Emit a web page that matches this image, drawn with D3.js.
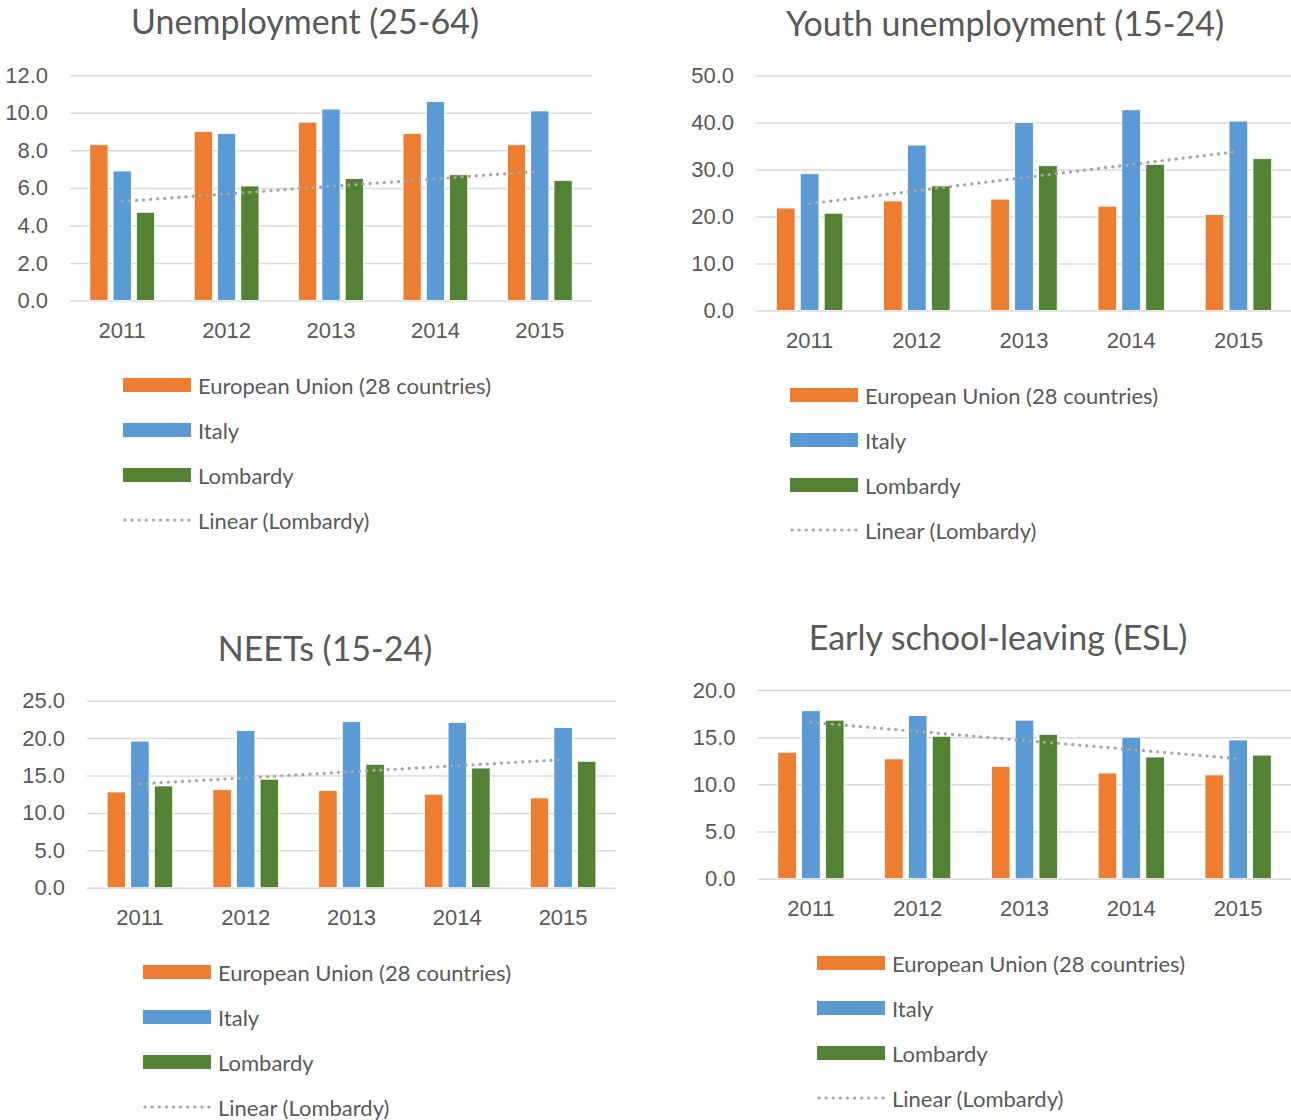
<!DOCTYPE html>
<html>
<head>
<meta charset="utf-8">
<script src="https://cdn.jsdelivr.net/npm/d3@7/dist/d3.min.js"></script>
<style>
	body { margin: 0; background: #fff; }
	svg { display: block; font-family: Lato, "Open Sans", sans-serif; }
	.grid line { stroke: #d9d9d9; stroke-width: 1.5; }
	.grid text, .xlab text { fill: #595959; font-size: 22px; }
	.legend text { fill: #595959; font-size: 22px; }
	.title { fill: #595959; font-size: 34px; }
</style>
</head>
<body>
<script>
// categories and series
var years = ["2011", "2012", "2013", "2014", "2015"];
var seriesNames = ["European Union (28 countries)", "Italy", "Lombardy"];
var trendName = "Linear (Lombardy)";

// unemployment 25-64
var unempEU = [8.3, 9.0, 9.5, 8.9, 8.3];
var unempIT = [6.9, 8.9, 10.2, 10.6, 10.1];
var unempLO = [4.7, 6.1, 6.5, 6.7, 6.4];
var unempTicks = [0, 2, 4, 6, 8, 10, 12];

// youth unemployment 15-24
var youthEU = [21.8, 23.3, 23.7, 22.2, 20.4];
var youthIT = [29.1, 35.2, 40.0, 42.7, 40.3];
var youthLO = [20.7, 26.5, 30.8, 31.1, 32.3];
var youthTicks = [0, 10, 20, 30, 40, 50];

// NEETs 15-24
var neetEU = [12.8, 13.1, 13.0, 12.5, 12.0];
var neetIT = [19.6, 21.0, 22.2, 22.1, 21.4];
var neetLO = [13.6, 14.5, 16.5, 16.0, 16.9];
var neetTicks = [0, 5, 10, 15, 20, 25];

// early school leaving
var eslEU = [13.4, 12.7, 11.9, 11.2, 11.0];
var eslIT = [17.8, 17.3, 16.8, 15.0, 14.7];
var eslLO = [16.8, 15.1, 15.3, 12.9, 13.1];
var eslTicks = [0, 5, 10, 15, 20];

var colors = ["#ed7d31", "#5b9bd5", "#548235"];
var trendColor = "#a5a5a5";

var svg = d3.select("body").append("svg")
	.attr("width", 1291)
	.attr("height", 1120);

function drawChart(opt) {
	var g = svg.append("g");
	var series = opt.series;

	var x0 = d3.scaleBand()
		.domain(years)
		.range([opt.left, opt.right]);
	var half = x0.bandwidth() * 0.31;
	var x1 = d3.scaleBand()
		.domain(d3.range(series.length))
		.range([-half, half])
		.paddingInner(0.22);

	var y = d3.scaleLinear()
		.domain([0, d3.max(opt.ticks)])
		.range([opt.bottom, opt.top]);

	//title
	g.append("text")
		.attr("class", "title")
		.attr("x", opt.titleX)
		.attr("y", opt.titleY)
		.attr("text-anchor", "middle")
		.attr("dominant-baseline", "central")
		.text(opt.title);

	//gridlines + y labels
	var yAxis = d3.axisLeft(y)
		.tickValues(opt.ticks)
		.tickFormat(d3.format(".1f"))
		.tickSize(-(opt.right - opt.left))
		.tickPadding(22);
	g.append("g")
		.attr("class", "grid")
		.attr("transform", "translate(" + opt.left + ",0)")
		.call(yAxis)
		.call(function (a) { a.select(".domain").remove(); });

	//x labels
	var xAxis = d3.axisBottom(x0).tickSize(0).tickPadding(22);
	g.append("g")
		.attr("class", "xlab")
		.attr("transform", "translate(0," + opt.bottom + ")")
		.call(xAxis)
		.call(function (a) { a.select(".domain").remove(); });

	//bars
	series.forEach(function (vals, si) {
		g.append("g")
			.selectAll("rect")
			.data(vals)
			.enter().append("rect")
			.attr("x", function (d, i) { return x0(years[i]) + x0.bandwidth() / 2 + x1(si); })
			.attr("width", x1.bandwidth())
			.attr("y", function (d) { return y(d); })
			.attr("height", function (d) { return y(0) - y(d); })
			.attr("fill", colors[si])
			.attr("stroke", "#fff")
			.attr("stroke-width", 0.8);
	});

	//linear trend of the last series
	var tv = series[series.length - 1];
	var n = tv.length;
	var mx = (n - 1) / 2, my = d3.mean(tv);
	var sxy = d3.sum(tv, function (d, i) { return (i - mx) * (d - my); });
	var sxx = d3.sum(tv, function (d, i) { return (i - mx) * (i - mx); });
	var slope = sxy / sxx, icpt = my - slope * mx;
	var trendPts = [0, n - 1].map(function (i) {
		return [x0(years[i]) + x0.bandwidth() / 2, y(icpt + slope * i)];
	});
	g.append("path")
		.attr("d", d3.line()(trendPts))
		.attr("fill", "none")
		.attr("stroke", trendColor)
		.attr("stroke-width", 3.2)
		.attr("stroke-linecap", "round")
		.attr("stroke-dasharray", "0.1 7");

	//legend
	var leg = g.append("g").attr("class", "legend");
	seriesNames.concat([trendName]).forEach(function (name, i) {
		var ly = opt.legendY + i * 45;
		if (i < seriesNames.length) {
			leg.append("rect")
				.attr("x", opt.legendX)
				.attr("y", ly - 7)
				.attr("width", 68)
				.attr("height", 14)
				.attr("fill", colors[i]);
		} else {
			leg.append("line")
				.attr("x1", opt.legendX + 2)
				.attr("x2", opt.legendX + 68)
				.attr("y1", ly)
				.attr("y2", ly)
				.attr("stroke", trendColor)
				.attr("stroke-width", 3.2)
				.attr("stroke-linecap", "round")
				.attr("stroke-dasharray", "0.1 7");
		}
		leg.append("text")
			.attr("x", opt.legendX + 75)
			.attr("y", ly)
			.attr("dominant-baseline", "central")
			.text(name);
	});
}

drawChart({
	title: "Unemployment (25-64)", titleX: 305, titleY: 20,
	series: [unempEU, unempIT, unempLO], ticks: unempTicks,
	left: 70, right: 592, top: 75.3, bottom: 300.5,
	legendX: 123, legendY: 385
});
drawChart({
	title: "Youth unemployment (15-24)", titleX: 1005, titleY: 22,
	series: [youthEU, youthIT, youthLO], ticks: youthTicks,
	left: 756, right: 1292, top: 75.5, bottom: 310.5,
	legendX: 790, legendY: 395
});
drawChart({
	title: "NEETs (15-24)", titleX: 325, titleY: 647,
	series: [neetEU, neetIT, neetLO], ticks: neetTicks,
	left: 87, right: 616, top: 700.7, bottom: 887.7,
	legendX: 143, legendY: 972
});
drawChart({
	title: "Early school-leaving (ESL)", titleX: 998, titleY: 636,
	series: [eslEU, eslIT, eslLO], ticks: eslTicks,
	left: 757.5, right: 1291.5, top: 690, bottom: 878.7,
	legendX: 817, legendY: 963
});
</script>
</body>
</html>
